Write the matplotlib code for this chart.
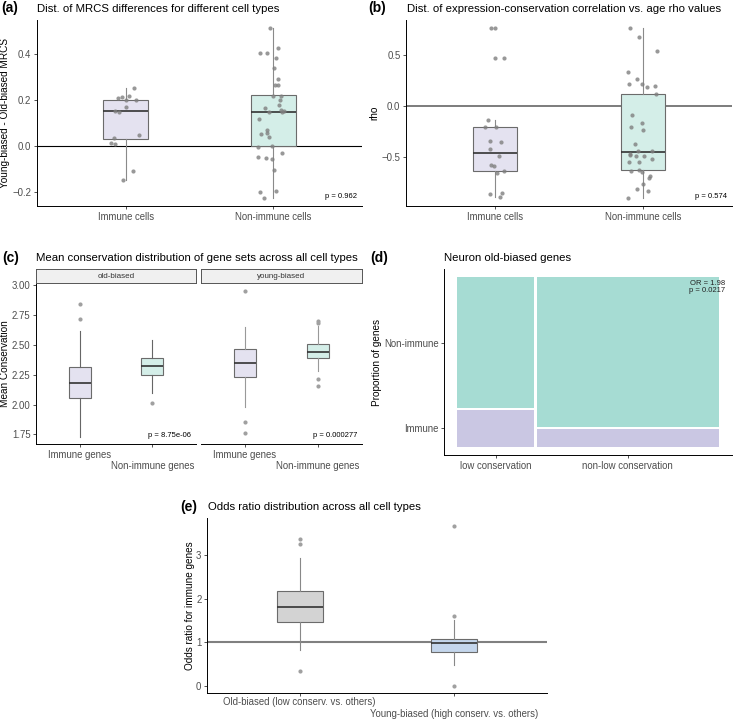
import matplotlib
matplotlib.use('Agg')
import matplotlib.pyplot as plt

plt.rcParams['font.family'] = ['Liberation Sans', 'DejaVu Sans']

# ---- data ----
cell_groups = ['Immune cells', 'Non-immune cells']
gene_groups = ['Immune genes', 'Non-immune genes']
facets = ['old-biased', 'young-biased']
mosaic_cols = ['low conservation', 'non-low conservation']
mosaic_rows = ['Immune', 'Non-immune']
or_groups = ['Old-biased (low conserv. vs. others)', 'Young-biased (high conserv. vs. others)']

# (a) MRCS differences: box stats (whislo, q1, med, q3, whishi) and points
mrcs_box = [(-0.146, 0.030, 0.153, 0.202, 0.251),
            (-0.225, 0.000, 0.148, 0.222, 0.513)]
mrcs_imm = [0.251, 0.219, 0.210, 0.214, 0.200, 0.199, 0.168, 0.154, 0.146,
            0.049, 0.036, 0.012, 0.009, -0.110, -0.146]
mrcs_imm_jit = [0.056, 0.025, -0.052, -0.025, 0.002, 0.070, 0.002, -0.072, -0.043,
                0.092, -0.077, -0.100, -0.072, 0.052, -0.020]
mrcs_non = [0.513, 0.426, 0.404, 0.406, 0.384, 0.341, 0.290, 0.265, 0.267, 0.217, 0.219,
            0.200, 0.177, 0.164, 0.155, 0.152, 0.146, 0.146, 0.116, 0.068, 0.058, 0.052,
            0.039, 0.001, -0.003, -0.030, -0.046, -0.054, -0.058, -0.106, -0.200, -0.196, -0.225]
mrcs_non_jit = [-0.020, 0.029, -0.090, -0.043, 0.020, 0.005, 0.029, 0.014, 0.034, 0.000, 0.052,
                0.043, 0.041, -0.056, 0.050, 0.070, 0.061, -0.032, -0.097, -0.045, -0.045, -0.083,
                -0.032, -0.011, -0.101, 0.059, -0.101, -0.052, -0.007, 0.007, -0.088, 0.016, -0.061]

# (b) rho values
rho_box = [(-0.900, -0.643, -0.462, -0.210, -0.138),
           (-0.902, -0.633, -0.449, 0.121, 0.767)]
rho_imm = [0.764, 0.764, 0.475, 0.475, -0.138, -0.203, -0.210, -0.341, -0.351, -0.426,
           -0.492, -0.584, -0.587, -0.636, -0.662, -0.852, -0.869, -0.898]
rho_imm_jit = [-0.029, 0.002, -0.002, 0.059, -0.047, -0.070, 0.005, -0.034, 0.038, -0.036,
               0.027, -0.027, -0.009, 0.061, 0.016, 0.045, -0.036, 0.032]
rho_non = [0.767, 0.675, 0.544, 0.338, 0.266, 0.213, 0.213, 0.184, 0.193, 0.118, -0.092,
           -0.167, -0.207, -0.236, -0.370, -0.446, -0.439, -0.469, -0.485, -0.495, -0.495,
           -0.518, -0.551, -0.551, -0.643, -0.630, -0.646, -0.689, -0.711, -0.764, -0.820,
           -0.833, -0.902]
rho_non_jit = [-0.090, -0.025, 0.092, -0.099, -0.043, -0.097, -0.007, 0.027, 0.081, 0.088, -0.077,
               -0.005, -0.083, 0.002, -0.052, -0.036, 0.063, -0.088, -0.086, -0.047, 0.005,
               0.061, -0.095, -0.025, -0.079, -0.025, -0.007, 0.047, 0.043, 0.000, -0.038,
               0.032, -0.101]

# (c) mean conservation per facet: box stats + outliers
cons_old_box = [(1.730, 2.055, 2.178, 2.312, 2.619), (2.099, 2.245, 2.323, 2.393, 2.541)]
cons_old_out = [[2.84, 2.72], [2.015]]
cons_young_box = [(1.977, 2.228, 2.346, 2.468, 2.653), (2.284, 2.393, 2.443, 2.508, 2.659)]
cons_young_out = [[2.955, 1.856, 1.763], [2.70, 2.681, 2.214, 2.158]]
cons_p = ['p = 8.75e-06', 'p = 0.000277']

# (d) mosaic: column share and immune share within each column
col_share = [0.296, 0.704]
immune_share = [0.222, 0.106]

# (e) odds ratios
or_box = [(0.82, 1.466, 1.81, 2.17, 2.94), (0.47, 0.763, 0.97, 1.07, 1.50)]
or_out = [[3.36, 3.245, 0.335], [3.67, 1.596, 0.0]]

# ---- styling ----
W, H = 733, 719
fig = plt.figure(figsize=(W / 100, H / 100), dpi=100)

def rect(l, t, r, b):
    return [l / W, 1 - b / H, (r - l) / W, (b - t) / H]

LAV, MINT = '#e4e2f0', '#d4eee8'
TICK_FS, TITLE_FS, SMALL_FS, LAB_FS = 6.9, 8.2, 5.5, 7.2

def style(ax):
    for s in ['top', 'right']:
        ax.spines[s].set_visible(False)
    for s in ['left', 'bottom']:
        ax.spines[s].set_linewidth(0.7)
    ax.tick_params(labelsize=TICK_FS, labelcolor='#4d4d4d', length=2.5, width=0.6,
                   color='#333333', pad=1.5)

def ylab(ax, text, x_px, l, r):
    # put the y label at a fixed pixel column (right edge of the rotated text)
    ax.set_ylabel(text, fontsize=LAB_FS)
    ax.yaxis.set_label_coords((x_px - l) / (r - l), 0.5)

def stats(vals, fliers=()):
    lo, q1, med, q3, hi = vals
    return dict(whislo=lo, q1=q1, med=med, q3=q3, whishi=hi, fliers=list(fliers))

def boxes(ax, box_list, colors, fliers=None, wcol='#666666'):
    st = [stats(b, fliers[i] if fliers else ()) for i, b in enumerate(box_list)]
    bp = ax.bxp(st, positions=[1, 2], widths=0.3, patch_artist=True, showcaps=False,
                showfliers=fliers is not None,
                boxprops=dict(edgecolor='#6b6b6b', linewidth=0.8),
                medianprops=dict(color='#333333', linewidth=1.2),
                whiskerprops=dict(color=wcol, linewidth=0.8),
                flierprops=dict(marker='o', markersize=3, markerfacecolor='#a0a0a0',
                                markeredgecolor='none'))
    for p, c in zip(bp['boxes'], colors):
        p.set_facecolor(c)
    return bp

def tag(x, y, t):
    fig.text(x / W, 1 - y / H, t, fontsize=10, fontweight='bold', va='center', ha='left')

def title(x, y, t):
    fig.text(x / W, 1 - y / H, t, fontsize=TITLE_FS, va='center', ha='left')

# (a)
ax = fig.add_axes(rect(37, 20, 362, 206))
ax.axhline(0, color='black', lw=0.8, zorder=1)
boxes(ax, mrcs_box, [LAV, MINT], wcol='#8a8a8a')
ax.scatter([1 + j for j in mrcs_imm_jit], mrcs_imm, s=9, color='#7f7f7f', alpha=0.8, lw=0, zorder=3)
ax.scatter([2 + j for j in mrcs_non_jit], mrcs_non, s=9, color='#7f7f7f', alpha=0.8, lw=0, zorder=3)
ax.set_xlim(0.4, 2.6)
ax.set_ylim(-0.261, 0.548)
ax.set_yticks([-0.2, 0.0, 0.2, 0.4])
ax.set_xticks([1, 2])
ax.set_xticklabels(cell_groups)
ylab(ax, 'Young-biased - Old-biased MRCS', 10, 37, 362)
ax.text(0.985, 0.03, 'p = 0.962', transform=ax.transAxes, fontsize=SMALL_FS, ha='right', va='bottom')
style(ax)
tag(1, 8, '(a)')
title(37, 8.5, 'Dist. of MRCS differences for different cell types')

# (b)
ax = fig.add_axes(rect(406, 20, 732, 206))
ax.axhline(0, color='#666666', lw=1.2, zorder=1)
boxes(ax, rho_box, [LAV, MINT], wcol='#8a8a8a')
ax.scatter([1 + j for j in rho_imm_jit], rho_imm, s=9, color='#7f7f7f', alpha=0.8, lw=0, zorder=3)
ax.scatter([2 + j for j in rho_non_jit], rho_non, s=9, color='#7f7f7f', alpha=0.8, lw=0, zorder=3)
ax.set_xlim(0.4, 2.6)
ax.set_ylim(-0.984, 0.846)
ax.set_yticks([-0.5, 0.0, 0.5])
ax.set_xticks([1, 2])
ax.set_xticklabels(cell_groups)
ylab(ax, 'rho', 379, 406, 732)
ax.text(0.985, 0.03, 'p = 0.574', transform=ax.transAxes, fontsize=SMALL_FS, ha='right', va='bottom')
style(ax)
tag(368, 8, '(b)')
title(407, 8.5, 'Dist. of expression-conservation correlation vs. age rho values')

# (c) two facets
facet_px = [(36, 196), (201, 362)]
for k, (box_list, outs) in enumerate([(cons_old_box, cons_old_out), (cons_young_box, cons_young_out)]):
    l, r = facet_px[k]
    ax = fig.add_axes(rect(l, 283.3, r, 444))
    boxes(ax, box_list, [LAV, MINT], fliers=outs, wcol='#666666' if k == 0 else '#999999')
    ax.set_xlim(0.4, 2.6)
    ax.set_ylim(1.669, 3.017)
    ax.set_xticks([1, 2])
    ax.set_xticklabels([gene_groups[0], '\n' + gene_groups[1]], linespacing=1.2)
    ax.text(0.97, 0.03, cons_p[k], transform=ax.transAxes, fontsize=SMALL_FS, ha='right', va='bottom')
    style(ax)
    if k == 0:
        ax.set_yticks([1.75, 2.00, 2.25, 2.50, 2.75, 3.00])
        ax.set_yticklabels(['1.75', '2.00', '2.25', '2.50', '2.75', '3.00'])
        ylab(ax, 'Mean Conservation', 10, l, r)
    else:
        ax.spines['left'].set_visible(False)
        ax.set_yticks([])
    sax = fig.add_axes(rect(l, 269.3, r, 283.3))
    sax.set_facecolor('#f0f0f0')
    sax.set_xticks([])
    sax.set_yticks([])
    for s in sax.spines.values():
        s.set_color('#555555')
        s.set_linewidth(0.7)
    sax.text(0.5, 0.5, facets[k], fontsize=5.8, color='#333333', ha='center', va='center',
             transform=sax.transAxes)
tag(2, 258, '(c)')
title(36, 258, 'Mean conservation distribution of gene sets across all cell types')

# (d) mosaic
ax = fig.add_axes(rect(444, 269.3, 732, 455))
gap = 0.0103
lefts = [0, col_share[0] + gap]
for i in range(2):
    ax.bar(lefts[i], immune_share[i], width=col_share[i], bottom=0, align='edge',
           color='#cac7e3', lw=0)
    ax.bar(lefts[i], 1 - immune_share[i], width=col_share[i], bottom=immune_share[i] + gap,
           align='edge', color='#a6dcd3', lw=0)
ax.set_xlim(-0.0514, 1.0617)
ax.set_ylim(-0.049, 1.059)
ax.set_xticks([lefts[i] + col_share[i] / 2 for i in range(2)])
ax.set_xticklabels(mosaic_cols)
ax.set_yticks([immune_share[0] / 2, immune_share[0] + gap + (1 - immune_share[0]) / 2])
ax.set_yticklabels(mosaic_rows)
ylab(ax, 'Proportion of genes', 382, 444, 732)
ax.text(0.975, 0.945, 'OR = 1.98\np = 0.0217', transform=ax.transAxes, fontsize=SMALL_FS,
        ha='right', va='top', color='#222222', linespacing=1.0)
style(ax)
tag(370, 258, '(d)')
title(444, 258, 'Neuron old-biased genes')

# (e)
ax = fig.add_axes(rect(207, 518, 547, 693.3))
ax.axhline(1, color='#808080', lw=1.5, zorder=1)
boxes(ax, or_box, ['#d3d3d3', '#c4d6ec'], fliers=or_out, wcol='#888888')
ax.set_xlim(0.4, 2.6)
ax.set_ylim(-0.174, 3.849)
ax.set_yticks([0, 1, 2, 3])
ax.set_xticks([1, 2])
ax.set_xticklabels([or_groups[0], '\n' + or_groups[1]], linespacing=1.3)
ylab(ax, 'Odds ratio for immune genes', 195, 207, 547)
style(ax)
ax.tick_params(axis='x', pad=0.5, length=2.0)
tag(180, 507, '(e)')
title(207.5, 507, 'Odds ratio distribution across all cell types')

fig.savefig('out.png', dpi=100)
